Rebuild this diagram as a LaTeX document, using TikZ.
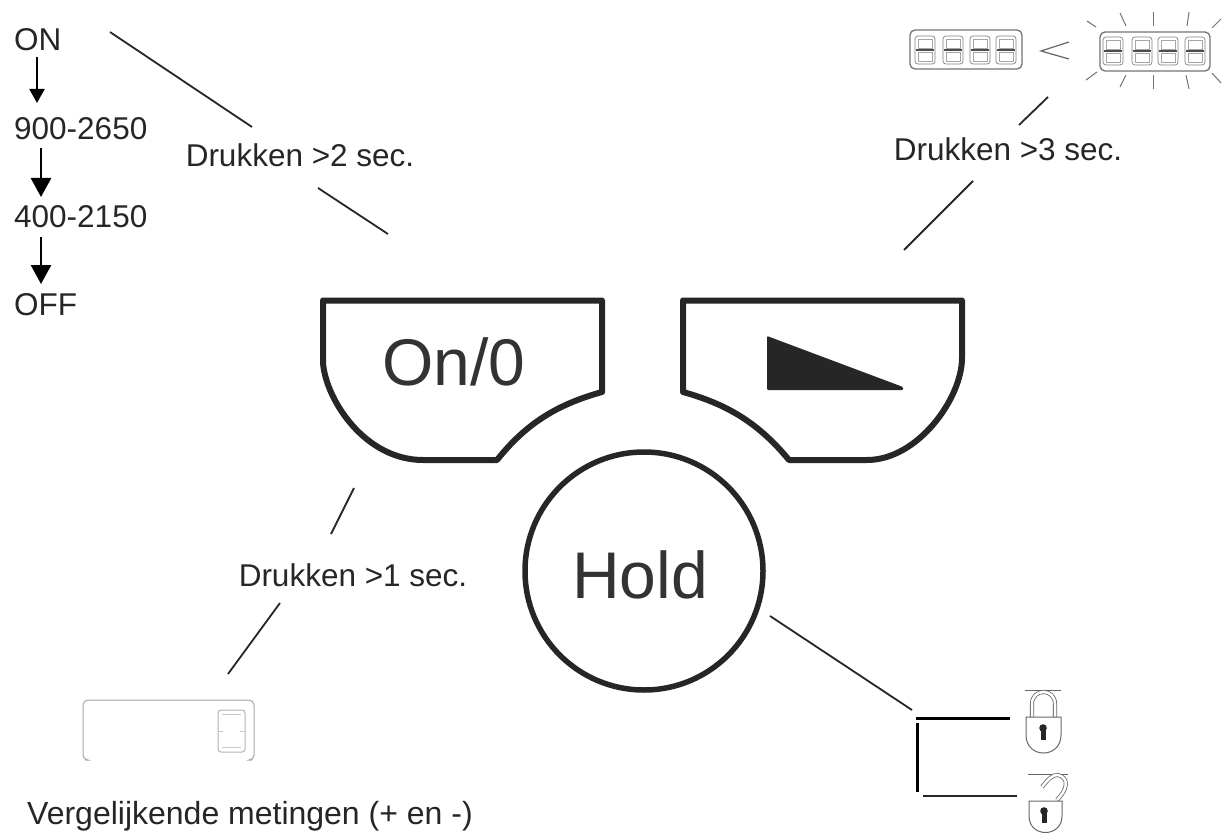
\documentclass[tikz,border=0pt]{standalone}
\usepackage{fontspec}
\setmainfont{Liberation Sans}
\usetikzlibrary{arrows.meta, positioning}

\begin{document}
\begin{tikzpicture}
  [
    x=1pt, y=-1pt,
    Label/.style={inner sep=0pt, text=black!85, font=\fontsize{31.5}{32}\selectfont},
    Key/.style={inner sep=0pt, text=black!80, font=\fontsize{66}{66}\selectfont},
    Line/.style={draw=black!85, line width=1.8pt},
    Down/.style={draw=black, line width=2.6pt, -{Triangle[length=19pt, width=20pt]}},
    Button/.style={draw=black!85, line width=6pt, line join=round},
    Ray/.style={draw=black!55, line width=1pt},
    Lock/.style={draw=black!60, line width=1pt},
    segdigit/.pic={
      \draw[black!50, line width=.7pt, rounded corners=3pt] (-10,-14) rectangle (10,14);
      \draw[black!35, line width=.6pt] (-7,-11) rectangle (7,-2) (-7,2) rectangle (7,11);
      \draw[black!70, line width=1.3pt] (-9,0) -- (9,0);
    },
    keyhole/.pic={
      \fill[black!85] (0,0) circle (3.8);
      \fill[black!85] (-2.5,0) rectangle (2.5,12);
    }
  ]
  \useasboundingbox (0,0) rectangle (1232,840);
  % Left list
  \node[Label, anchor=west] (on) at(14, 40) {ON};
  \node[Label, anchor=west] (v900) at(14, 129) {900-2650};
  \node[Label, anchor=west] (v400) at(14, 217) {400-2150};
  \node[Label, anchor=west] (off) at(14, 305) {OFF};
  \coordinate (a0) at(37, 57);
  \coordinate (a1) at(37, 103);
  \coordinate (b0) at(41, 148);
  \coordinate (b1) at(41, 197);
  \coordinate (c0) at(41, 237);
  \coordinate (c1) at(41, 284);
  \path [Down, line width=2pt, -{Triangle[length=14pt, width=15pt]}] (a0) -- (a1);
  \path [Down] (b0) -- (b1);
  \path [Down] (c0) -- (c1);

  % Keys
  \path [Button] (323,300.5) -- (602,300.5) -- (602,392)
    .. controls (555,405) and (525,425) .. (497,460) -- (423,460)
    .. controls (365,460) and (326,400) .. (323,363) -- cycle;
  \path [Button] (962,300.5) -- (683,300.5) -- (683,392)
    .. controls (730,405) and (760,425) .. (789,460) -- (867,460)
    .. controls (918,460) and (962,398) .. (962,358) -- cycle;
  \node[Key] (key0) at(454, 362) {On/0};
  \fill[black!85, rounded corners=1pt] (767,336) -- (903,387) -- (903,390) -- (767,390) -- cycle;
  \node[Key, circle, draw=black!85, line width=5.5pt, minimum size=238pt] (hold) at(644, 571) {};
  \node[Key] (holdtext) at(640, 575) {Hold};

  % Texts
  \node[Label] (t2) at(300, 155) {Drukken >2 sec.};
  \node[Label] (t3) at(1008, 149) {Drukken >3 sec.};
  \node[Label] (t1) at(353, 575) {Drukken >1 sec.};
  \node[Label, anchor=west, font=\fontsize{32}{32}\selectfont] (cmp) at(27, 816) {Vergelijkende metingen (+ en -)};

  % Lines
  \coordinate (l1) at(110, 32);
  \coordinate (l2) at(252, 127);
  \coordinate (l3) at(318, 188);
  \coordinate (l4) at(388, 234);
  \path [Line] (l1) -- (l2);
  \path [Line] (l3) -- (l4);
  \coordinate (r1) at(1048, 97);
  \coordinate (r2) at(1019, 125);
  \coordinate (r3) at(973, 181);
  \coordinate (r4) at(904, 250);
  \path [Line] (r1) -- (r2);
  \path [Line] (r3) -- (r4);
  \coordinate (d1) at(354, 488);
  \coordinate (d2) at(331, 534);
  \coordinate (d3) at(280, 603);
  \coordinate (d4) at(228, 674);
  \path [Line] (d1) -- (d2);
  \path [Line] (d3) -- (d4);
  \coordinate (h1) at(770, 616);
  \coordinate (h2) at(912, 710);
  \coordinate (h3) at(916, 718);
  \coordinate (h4) at(1010, 718);
  \coordinate (h5) at(917, 723);
  \coordinate (h6) at(917, 792);
  \coordinate (h7) at(923, 796);
  \coordinate (h8) at(1017, 796);
  \path [Line] (h1) -- (h2);
  \path [draw=black, line width=3pt] (h3) -- (h4);
  \path [draw=black, line width=3pt] (h5) -- (h6);
  \path [Line] (h7) -- (h8);

  % Displays
  \draw[black!55, line width=1.3pt, rounded corners=5pt] (910,30) rectangle (1022,69);
  \foreach \x in {925, 953, 980, 1006} \pic at(\x, 50) {segdigit};
  \draw[black!55, line width=1.3pt, rounded corners=5pt] (1100,32) rectangle (1210,71);
  \foreach \x in {1113, 1142, 1168, 1195} \pic at(\x, 51) {segdigit};
  \draw[black!60, line width=1.2pt] (1069,42) -- (1041,51) -- (1069,59);
  % Rays
  \foreach \xa/\ya/\xb/\yb in {1087/21/1096/27, 1120/13/1126/26, 1153/12/1153/26, 1189/12/1187/26,
      1221/19/1212/28, 1086/80/1097/72, 1126/75/1120/87, 1153/75/1153/89, 1186/75/1189/89, 1212/73/1221/83}
    \path [Ray] (\xa,\ya) -- (\xb,\yb);

  % Small display
  \draw[black!35, line width=1pt, rounded corners=5pt] (85,760) -- (83,760) -- (83,700) -- (254,700) -- (254,760) -- (252,760);
  \draw[black!30, line width=1pt, rounded corners=3pt] (218,710) rectangle (245,752);
  \draw[black!22, line width=.8pt] (222,714) -- (241,714) (222,747) -- (241,747) (218,731) -- (223,731) (240,731) -- (245,731);

  % Locks
  \path [Lock] (1025,690) -- (1061,690);
  \path [Lock, double=white, double distance=2.5pt, line width=.8pt] (1032,717) -- (1032,704) .. controls (1032,688) and (1055,688) .. (1055,704) -- (1055,717);
  \path [Lock] (1026,717) -- (1061,717) -- (1061,735) .. controls (1061,759) and (1026,759) .. (1026,735) -- cycle;
  \pic at(1043, 728) {keyhole};
  \path [Lock] (1028,774) -- (1068,774);
  \path [Lock, double=white, double distance=2.5pt, line width=.8pt] (1057,800) .. controls (1067,790) and (1070,778) .. (1058,775) .. controls (1052,774) and (1047,781) .. (1042,787);
  \path [Lock] (1029,801) -- (1062,801) -- (1062,816) .. controls (1062,838) and (1029,838) .. (1029,816) -- cycle;
  \pic at(1044, 811) {keyhole};
\end{tikzpicture}
\end{document}
